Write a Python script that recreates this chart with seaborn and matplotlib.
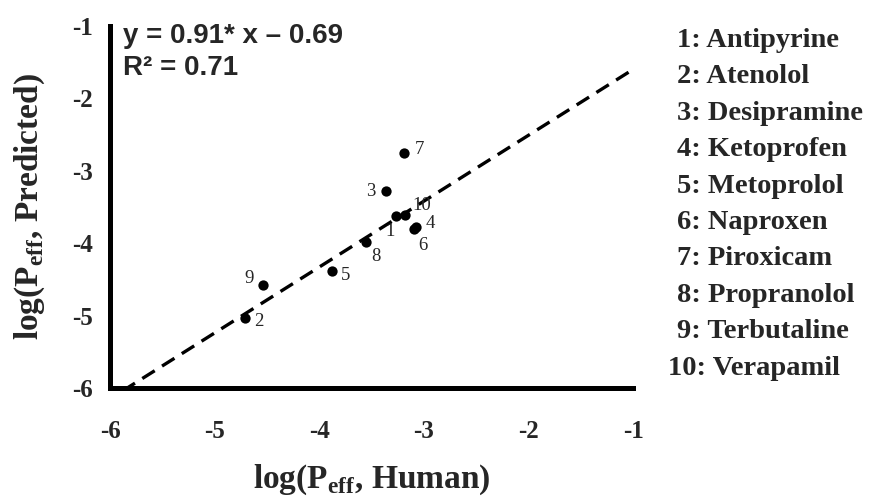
import matplotlib
matplotlib.use("Agg")
import matplotlib.pyplot as plt
import seaborn as sns
import pandas as pd

# ---- data ----
ids = [1, 2, 3, 4, 5, 6, 7, 8, 9, 10]
names = ["Antipyrine", "Atenolol", "Desipramine", "Ketoprofen", "Metoprolol",
         "Naproxen", "Piroxicam", "Propranolol", "Terbutaline", "Verapamil"]
human = [-3.27, -4.71, -3.36, -3.07, -3.88, -3.09, -3.19, -3.55, -4.54, -3.18]
predicted = [-3.63, -5.03, -3.28, -3.77, -4.39, -3.80, -2.76, -3.99, -4.58, -3.61]
slope = 0.91
intercept = -0.69
r2 = 0.71
fit_x = [-5.88, -1.0]
xticks = [-6, -5, -4, -3, -2, -1]
yticks = [-6, -5, -4, -3, -2, -1]

# label offsets (points) for each compound number
label_offsets = {1: (-4, -11), 2: (10, -3), 3: (-11, 0), 4: (10, 2), 5: (10, -3),
                 6: (6, -12), 7: (11, 3), 8: (7, -10), 9: (-10, 5), 10: (12, 7)}

df = pd.DataFrame({"id": ids, "name": names, "human": human, "predicted": predicted})
fit_df = pd.DataFrame({"x": fit_x, "y": [slope * v + intercept for v in fit_x]})

sns.set_style("white")
plt.rcParams["mathtext.fontset"] = "custom"
plt.rcParams["mathtext.rm"] = "Liberation Serif:bold"
plt.rcParams["mathtext.bf"] = "Liberation Serif:bold"

fig = plt.figure(figsize=(8.85, 4.98), dpi=100)
ax = fig.add_axes([110 / 885, 110 / 498, 523 / 885, 362 / 498])

sns.lineplot(data=fit_df, x="x", y="y", ax=ax, color="black", linewidth=2.4,
             linestyle=(0, (4.4, 2.6)))
sns.scatterplot(data=df, x="human", y="predicted", ax=ax, color="black",
                s=55, edgecolor="black", linewidth=0, zorder=3)

for i, hx, py in zip(ids, human, predicted):
    dx, dy = label_offsets[i]
    ax.annotate(str(i), (hx, py), xytext=(dx, dy), textcoords="offset points",
                ha="center", va="center", fontsize=13.5, family="Liberation Serif")

ax.set_xlim(-6, -1)
ax.set_ylim(-6, -1)
ax.set_xticks(xticks)
ax.set_yticks(yticks)
ax.set_xticklabels([str(t) for t in xticks])
ax.set_yticklabels([str(t) for t in yticks])
for lab in ax.get_xticklabels() + ax.get_yticklabels():
    lab.set_family("Liberation Serif")
    lab.set_fontweight("bold")
    lab.set_fontsize(18)
ax.tick_params(axis="both", direction="out", length=4, width=2, color="black")
ax.tick_params(axis="x", pad=19)
ax.tick_params(axis="y", pad=8)

for side in ["top", "right"]:
    ax.spines[side].set_visible(False)
for side in ["left", "bottom"]:
    ax.spines[side].set_linewidth(3.6)
    ax.spines[side].set_color("black")

ax.set_xlabel(r"log(P$_{\mathrm{eff}}$, Human)", family="Liberation Serif",
              fontweight="bold", fontsize=24)
ax.set_ylabel(r"log(P$_{\mathrm{eff}}$, Predicted)", family="Liberation Serif",
              fontweight="bold", fontsize=24)
ax.xaxis.set_label_coords(0.5, -0.205)
ax.yaxis.set_label_coords(-0.12, 0.5)

ax.text(0.025, 0.952, f"y = {slope:.2f}* x \u2013 {abs(intercept):.2f}",
        transform=ax.transAxes, ha="left", va="baseline", family="Liberation Sans",
        fontweight="bold", fontsize=20)
ax.text(0.025, 0.866, f"R\u00b2 = {r2:.2f}", transform=ax.transAxes, ha="left",
        va="baseline", family="Liberation Sans", fontweight="bold", fontsize=20)

# legend-like list on the right
base0 = 47
step = 36.4
for k, (i, n) in enumerate(zip(ids, names)):
    xpos = (668 if i >= 10 else 677) / 885
    fig.text(xpos, 1 - (base0 + k * step) / 498, f"{i}: {n}", ha="left",
             va="baseline", family="Liberation Serif", fontweight="bold",
             fontsize=20.5)

fig.savefig("out.png", dpi=100)
